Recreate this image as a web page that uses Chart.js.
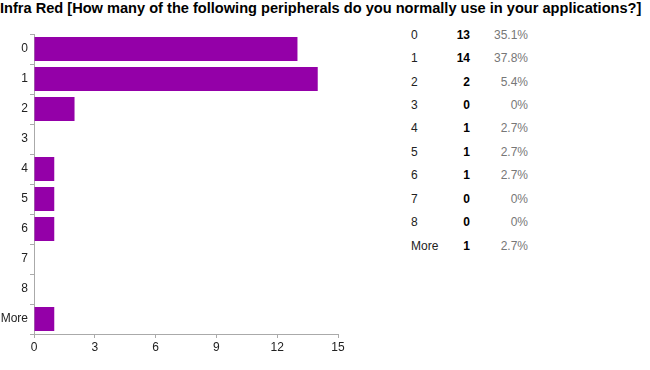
<!DOCTYPE html>
<html><head><meta charset="utf-8">
<script src="https://cdn.jsdelivr.net/npm/chart.js@4"></script>
<style>
body{margin:0;background:#fff;width:650px;height:370px;position:relative;overflow:hidden;font-family:"Liberation Sans",Arial,sans-serif;}
#title{position:absolute;left:0;top:0px;font-weight:bold;font-size:14.6px;color:#000;white-space:nowrap;}
#wrap{position:absolute;left:0;top:0;width:350px;height:362px;}
#tbl{position:absolute;left:411px;top:23px;border-collapse:collapse;font-size:12px;color:#222;}
#tbl td{padding:0;height:23.45px;line-height:16px;}
#tbl td.l{width:40px;text-align:left;}
#tbl td.c{width:19px;text-align:right;font-weight:bold;color:#000;}
#tbl td.p{width:58px;text-align:right;color:#777;}
</style></head><body>
<div id="title">Infra Red [How many of the following peripherals do you normally use in your applications?]</div>
<div id="wrap"><canvas id="c"></canvas></div>
<table id="tbl"></table>
<script>
const categories = ["0","1","2","3","4","5","6","7","8","More"];
const counts = [13,14,2,0,1,1,1,0,0,1];
const percents = ["35.1%","37.8%","5.4%","0%","2.7%","2.7%","2.7%","0%","0%","2.7%"];
const xTicks = [0,3,6,9,12,15];

const tbl = document.getElementById('tbl');
categories.forEach((c,i)=>{
  const tr=document.createElement('tr');
  tr.innerHTML='<td class="l">'+c+'</td><td class="c">'+counts[i]+'</td><td class="p">'+percents[i]+'</td>';
  tbl.appendChild(tr);
});

new Chart(document.getElementById('c'),{
  type:'bar',
  data:{labels:categories,datasets:[{data:counts,backgroundColor:'#9400a8',borderWidth:0,barPercentage:0.8,categoryPercentage:1}]},
  options:{
    indexAxis:'y',responsive:true,maintainAspectRatio:false,animation:false,
    layout:{padding:{top:34,right:12,left:0,bottom:0}},
    plugins:{legend:{display:false},tooltip:{enabled:false},title:{display:false}},
    scales:{
      x:{min:0,max:15,
        afterBuildTicks:(s)=>{s.ticks=xTicks.map(v=>({value:v}));},
        grid:{drawOnChartArea:false,drawTicks:true,tickLength:4,color:'#aaa'},
        border:{color:'#aaa'},
        ticks:{color:'#222',font:{family:'"Liberation Sans", Arial',size:12},padding:2,maxRotation:0},
        afterFit:(s)=>{s.height=28;}
      },
      y:{
        grid:{drawOnChartArea:false,drawTicks:true,tickLength:4,color:'#aaa',offset:true},
        border:{color:'#aaa'},
        ticks:{color:'#222',font:{family:'"Liberation Sans", Arial',size:12},padding:2},
        afterFit:(s)=>{s.width=34;}
      }
    }
  }
});
</script>
</body></html>
